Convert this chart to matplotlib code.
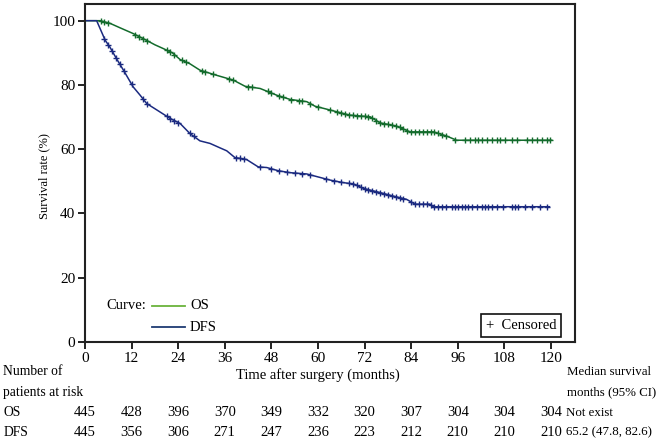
import numpy as np
import matplotlib
matplotlib.use('Agg')
import matplotlib.pyplot as plt
from matplotlib.patches import Rectangle
from matplotlib.transforms import blended_transform_factory

plt.rcParams['font.family'] = ['Liberation Serif', 'DejaVu Serif']

# Kaplan-Meier curves (months, survival %)
os_t = [0, 3, 3.9, 6.4, 9, 12.4, 15.5, 18, 20.2, 22.5, 24.5, 27, 29.6, 33.9, 38.2,
        41.2, 45.1, 49.4, 52.8, 57.1, 59.2, 63.1, 68.2, 73.4, 76, 80.2, 83.7, 89.7,
        93.1, 95.7, 120.2]
os_s = [100, 100, 100, 99.2, 97.8, 96.0, 94.1, 92.5, 91.3, 90.0, 87.9, 86.6, 84.6, 83.0, 81.5,
        79.6, 78.9, 76.8, 75.5, 74.8, 73.4, 72.2, 70.6, 70.1, 68.2, 67.2, 65.4, 65.4,
        64.1, 62.8, 62.8]
dfs_t = [0, 3, 5.2, 6.4, 8.1, 9.9, 12.4, 14.2, 15.9, 18, 21.9, 24.5, 27, 29.6, 32.2,
         34.8, 36.5, 38.6, 41.6, 44.6, 46.8, 49.8, 52.8, 57.1, 63.1, 66.5, 69.1, 71.7,
         76, 79.4, 82.8, 85, 88.8, 89.7, 119.6]
dfs_s = [100, 100, 93.9, 91.8, 88.2, 84.6, 79.4, 76.8, 74.2, 72.6, 69.6, 68.0, 64.9, 62.6, 61.8,
         60.4, 59.5, 57.4, 56.8, 54.5, 54.3, 53.3, 52.7, 52.3, 50.4, 49.6, 49.2, 47.8,
         46.5, 45.4, 44.4, 42.9, 42.9, 42.1, 42.1]

# censored observation times
os_cens = [4, 5, 6, 13, 14, 15, 16, 21, 22, 23, 25, 26, 30, 31, 33, 37, 38, 42, 43,
           47, 48, 50, 51, 53, 55, 56, 58, 60, 63, 65, 66, 67, 68, 69, 70, 71, 72, 73,
           74, 75, 76, 77, 78, 79, 80, 81, 82, 83, 84, 85, 86, 87, 88, 89, 90, 91, 92,
           93, 95.3, 97.9, 99.2, 100.5, 101.2, 102.3, 103.5, 104.8, 106.1, 106.9,
           108.2, 110, 111.3, 113.9, 115.1, 116.4, 117.7, 119, 119.8]
dfs_cens = [5, 6, 7, 8, 9, 10, 12, 15, 16, 21, 22, 23, 24, 27, 28, 39, 40, 41, 45,
            48, 50, 52, 54, 56, 58, 62, 64, 66, 68, 69, 70, 71, 72, 73, 74, 75, 76, 77,
            78, 79, 80, 81, 82, 84, 85, 86, 87, 88, 89, 90, 91, 92, 93, 94.4, 95.3,
            96.1, 97, 97.9, 98.7, 99.6, 100.9, 102.2, 103, 103.9, 104.8, 106, 107.7,
            109.9, 110.8, 111.6, 113.3, 115.1, 117.2, 119]

risk_times = [0, 12, 24, 36, 48, 60, 72, 84, 96, 108, 120]
os_risk = [445, 428, 396, 370, 349, 332, 320, 307, 304, 304, 304]
dfs_risk = [445, 356, 306, 271, 247, 236, 223, 212, 210, 210, 210]
os_median = 'Not exist'
dfs_median = '65.2 (47.8, 82.6)'

os_color = '#136b2c'
dfs_color = '#1b2a80'

fig = plt.figure(figsize=(6.61, 4.43), dpi=100)
ax = fig.add_axes([0.1286, 0.228, 0.7414, 0.763])

ax.plot(os_t, os_s, color=os_color, lw=1.1)
ax.plot(dfs_t, dfs_s, color=dfs_color, lw=1.1)
ax.plot(os_cens, np.interp(os_cens, os_t, os_s), ls='none', marker='+',
        ms=5, mew=1.0, color=os_color)
ax.plot(dfs_cens, np.interp(dfs_cens, dfs_t, dfs_s), ls='none', marker='+',
        ms=5, mew=1.0, color=dfs_color)

ax.set_xlim(0, 126.2)
ax.set_ylim(0, 105.2)
ax.set_xticks(risk_times)
ax.set_yticks([0, 20, 40, 60, 80, 100])
ax.tick_params(direction='out', length=5, width=1.3, labelsize=11, pad=2, color='#111')
for s in ax.spines.values():
    s.set_linewidth(1.5)
    s.set_color('#222')
ax.set_ylabel('Survival rate (%)', fontsize=9)
ax.yaxis.set_label_coords(-0.071, 0.49)

# legend drawn by hand
ax.text(0.043, 0.1065, 'Curve:', transform=ax.transAxes, fontsize=10.5, va='center')
ax.plot([0.137, 0.204], [0.1065, 0.1065], transform=ax.transAxes, color='#6ab33c', lw=1.3)
ax.text(0.214, 0.1065, 'OS', transform=ax.transAxes, fontsize=10.5, va='center')
ax.plot([0.137, 0.204], [0.044, 0.044], transform=ax.transAxes, color='#1f3b73', lw=1.3)
ax.text(0.214, 0.044, 'DFS', transform=ax.transAxes, fontsize=10.5, va='center')

ax.add_patch(Rectangle((0.808, 0.014), 0.163, 0.068, transform=ax.transAxes,
                       fill=False, edgecolor='#111', lw=1.2))
ax.text(0.8895, 0.048, '+  Censored', transform=ax.transAxes, fontsize=10.5,
        ha='center', va='center')

# number at risk table
tr = blended_transform_factory(ax.transData, fig.transFigure)
fig.text(0.005, 0.161, 'Number of', fontsize=9.8, va='center')
fig.text(0.005, 0.1135, 'patients at risk', fontsize=9.8, va='center')
fig.text(0.005, 0.0684, 'OS', fontsize=9.8, va='center')
fig.text(0.005, 0.0232, 'DFS', fontsize=9.8, va='center')
ax.text(60, 0.1535, 'Time after surgery (months)', transform=tr, fontsize=10.5,
        ha='center', va='center')
for t, a, b in zip(risk_times, os_risk, dfs_risk):
    ax.text(t, 0.0684, str(a), transform=tr, fontsize=10.5, ha='center', va='center')
    ax.text(t, 0.0232, str(b), transform=tr, fontsize=10.5, ha='center', va='center')
fig.text(0.858, 0.161, 'Median survival', fontsize=9.3, va='center')
fig.text(0.858, 0.1135, 'months (95% CI)', fontsize=9.3, va='center')
fig.text(0.856, 0.0684, os_median, fontsize=9.3, va='center')
fig.text(0.856, 0.0232, dfs_median, fontsize=9.3, va='center')

fig.savefig('out.png', dpi=100)
